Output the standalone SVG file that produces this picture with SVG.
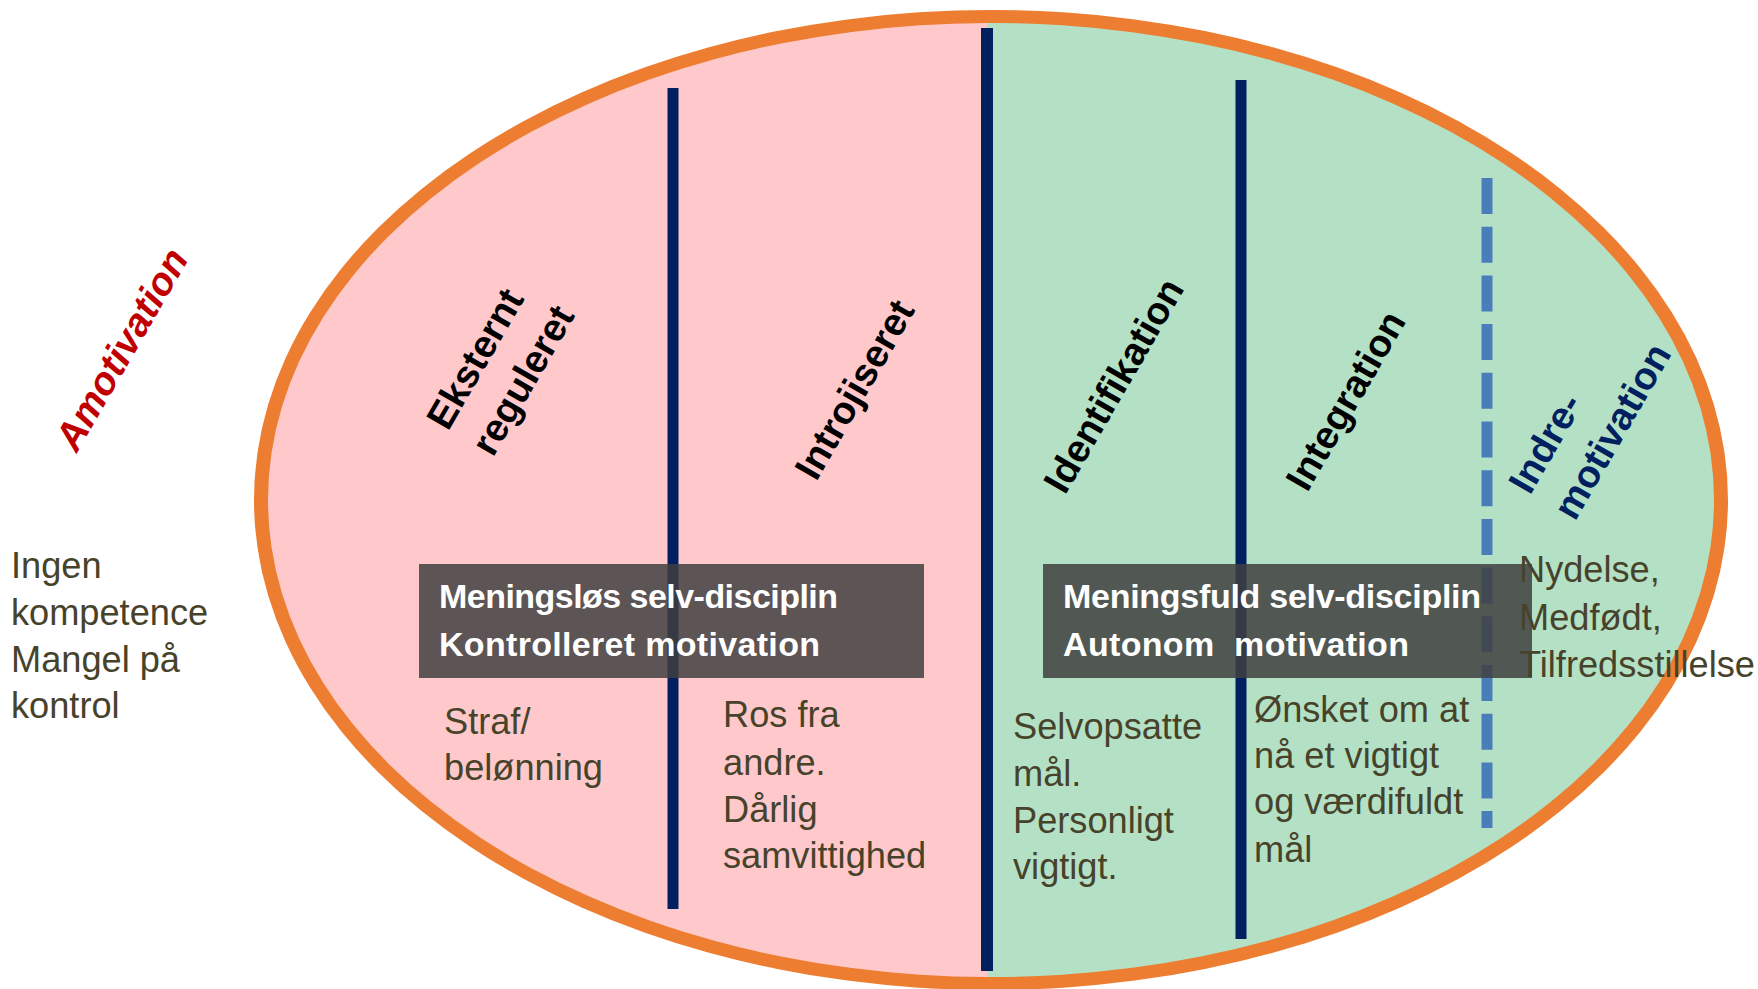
<svg xmlns="http://www.w3.org/2000/svg" width="1758" height="989" viewBox="0 0 1758 989">
<style>
.t{font-family:"Liberation Sans",Arial,sans-serif}
.body{font-size:36.2px;fill:#47432B}
.title{font-size:38.5px;font-weight:bold;fill:#000000}
.navy{fill:#002060}
.boxt{font-size:34px;font-weight:bold;fill:#FFFFFF;white-space:pre}
.vline{stroke:#002060;stroke-width:11;fill:none}
.dline{stroke:#4A7EBB;stroke-width:11;fill:none;stroke-dasharray:36 12.7}
.box{fill:#404040;fill-opacity:0.85}
</style>
<defs>
<clipPath id="leftHalf"><rect x="0" y="0" width="987" height="989"/></clipPath>
<clipPath id="rightHalf"><rect x="987" y="0" width="771" height="989"/></clipPath>
</defs>
<g id="oval">
<ellipse cx="991" cy="500" rx="737" ry="490" fill="#ED7D31"/>
<ellipse cx="991" cy="500" rx="723" ry="477" fill="#FFC9CC" clip-path="url(#leftHalf)"/>
<ellipse cx="991" cy="500" rx="723" ry="477" fill="#B4E1C5" clip-path="url(#rightHalf)"/>
</g>
<g id="connectors">
<line class="vline" x1="673" y1="88" x2="673" y2="909"/>
<line class="vline" x1="987" y1="28" x2="987" y2="971" style="stroke-width:12"/>
<line class="vline" x1="1241" y1="80" x2="1241" y2="939"/>
<line class="dline" x1="1487" y1="178" x2="1487" y2="828"/>
</g>
<g id="amotivation">
<text class="t" font-size="39" font-weight="bold" font-style="italic" fill="#C00000" text-anchor="middle" transform="translate(133,356) rotate(-60)">Amotivation</text>
<text class="t body" x="11" y="578">Ingen</text>
<text class="t body" x="11" y="625">kompetence</text>
<text class="t body" x="11" y="672">Mangel på</text>
<text class="t body" x="11" y="718">kontrol</text>
</g>
<g id="eksternt">
<text class="t title" transform="translate(448,432) rotate(-60)">Eksternt</text>
<text class="t title" transform="translate(493,458) rotate(-60)">reguleret</text>
<text class="t body" x="444" y="734">Straf/</text>
<text class="t body" x="444" y="780">belønning</text>
</g>
<g id="introjiseret">
<text class="t title" text-anchor="middle" transform="translate(866,396) rotate(-60)">Introjiseret</text>
<text class="t body" x="723" y="727">Ros fra</text>
<text class="t body" x="723" y="775">andre.</text>
<text class="t body" x="723" y="822">Dårlig</text>
<text class="t body" x="723" y="868">samvittighed</text>
</g>
<g id="identifikation">
<text class="t title" text-anchor="middle" transform="translate(1125,392) rotate(-60)">Identifikation</text>
<text class="t body" x="1013" y="739">Selvopsatte</text>
<text class="t body" x="1013" y="786">mål.</text>
<text class="t body" x="1013" y="833">Personligt</text>
<text class="t body" x="1013" y="879">vigtigt.</text>
</g>
<g id="integration">
<text class="t title" text-anchor="middle" transform="translate(1357,407) rotate(-60)">Integration</text>
<text class="t body" x="1254" y="722">Ønsket om at</text>
<text class="t body" x="1254" y="768">nå et vigtigt</text>
<text class="t body" x="1254" y="814">og værdifuldt</text>
<text class="t body" x="1254" y="862">mål</text>
</g>
<g id="kontrolleret-box">
<rect class="box" x="419" y="564" width="505" height="114"/>
<text class="t boxt" x="439" y="608" textLength="399">Meningsløs selv-disciplin</text>
<text class="t boxt" x="439" y="656" textLength="381">Kontrolleret motivation</text>
</g>
<g id="autonom-box">
<rect class="box" x="1043" y="564" width="489" height="114"/>
<text class="t boxt" x="1063" y="608" textLength="418">Meningsfuld selv-disciplin</text>
<text class="t boxt" x="1063" y="656" textLength="346">Autonom  motivation</text>
</g>
<g id="indre-motivation">
<text class="t title navy" transform="translate(1530,496) rotate(-60)">Indre-</text>
<text class="t title navy" transform="translate(1575,522) rotate(-60)">motivation</text>
<text class="t body" x="1519" y="582">Nydelse,</text>
<text class="t body" x="1519" y="630">Medfødt,</text>
<text class="t body" x="1519" y="677">Tilfredsstillelse</text>
</g>
</svg>
